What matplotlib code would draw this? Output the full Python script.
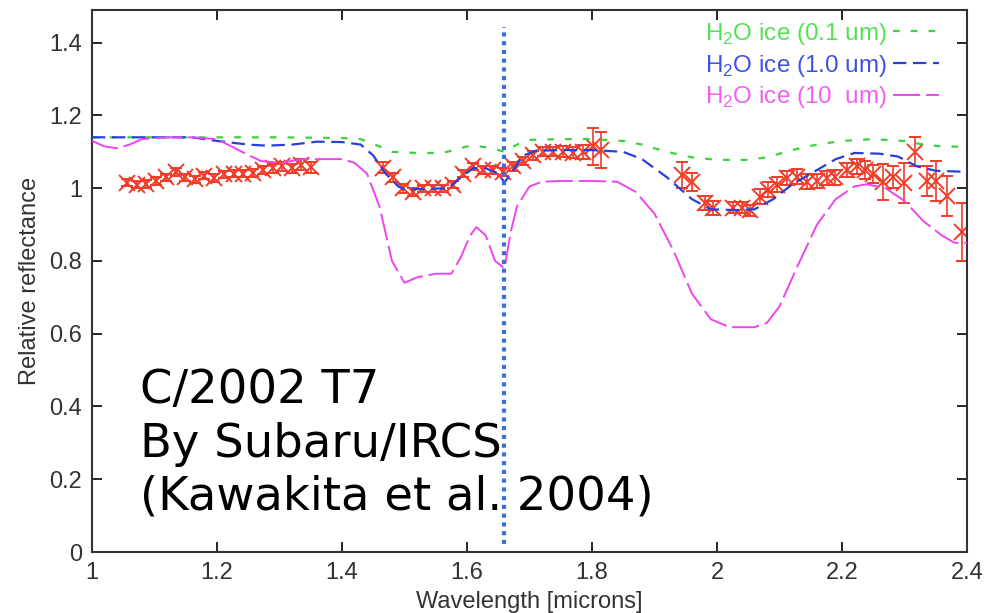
import matplotlib
matplotlib.use("Agg")
import matplotlib.pyplot as plt
from matplotlib.ticker import FormatStrFormatter

# model spectra of H2O ice
x_01 = [1.0, 1.1, 1.2, 1.3, 1.4, 1.43, 1.46, 1.48, 1.52, 1.56, 1.58, 1.6, 1.62, 1.64, 1.66, 1.68,
        1.7, 1.75, 1.8, 1.85, 1.88, 1.92, 1.96, 2.0, 2.05, 2.08, 2.12, 2.16, 2.2, 2.25, 2.3, 2.33,
        2.36, 2.4]
y_01 = [1.14, 1.14, 1.14, 1.14, 1.138, 1.135, 1.115, 1.1, 1.097, 1.097, 1.105, 1.115, 1.115, 1.11,
        1.1, 1.12, 1.133, 1.135, 1.135, 1.13, 1.12, 1.1, 1.085, 1.078, 1.078, 1.085, 1.105, 1.12,
        1.13, 1.135, 1.13, 1.12, 1.115, 1.114]

x_10 = [1.0, 1.1, 1.16, 1.2, 1.25, 1.28, 1.32, 1.36, 1.4, 1.43, 1.45, 1.47, 1.49, 1.5, 1.53, 1.57,
        1.59, 1.61, 1.63, 1.65, 1.66, 1.67, 1.69, 1.71, 1.75, 1.8, 1.85, 1.88, 1.92, 1.96, 1.99,
        2.03, 2.06, 2.09, 2.12, 2.15, 2.19, 2.22, 2.26, 2.29, 2.32, 2.35, 2.4]
y_10 = [1.14, 1.14, 1.14, 1.13, 1.12, 1.117, 1.12, 1.128, 1.127, 1.12, 1.09, 1.04, 1.005, 0.997,
        0.998, 1.0, 1.03, 1.055, 1.055, 1.04, 1.016, 1.04, 1.09, 1.103, 1.105, 1.105, 1.1, 1.08,
        1.03, 0.97, 0.942, 0.94, 0.942, 0.97, 1.01, 1.04, 1.08, 1.097, 1.095, 1.087, 1.06, 1.048,
        1.045]

x_100 = [1.0, 1.02, 1.04, 1.06, 1.08, 1.12, 1.16, 1.2, 1.24, 1.27, 1.3, 1.34, 1.4, 1.42, 1.44,
         1.46, 1.48, 1.5, 1.52, 1.55, 1.575, 1.59, 1.605, 1.615, 1.63, 1.645, 1.66, 1.67, 1.68,
         1.7, 1.72, 1.75, 1.8, 1.84, 1.87, 1.9, 1.93, 1.96, 1.99, 2.02, 2.06, 2.08, 2.1, 2.13,
         2.16, 2.19, 2.22, 2.24, 2.27, 2.3, 2.33, 2.36, 2.38, 2.4]
y_100 = [1.13, 1.115, 1.11, 1.12, 1.135, 1.14, 1.14, 1.135, 1.1, 1.075, 1.07, 1.08, 1.08, 1.07,
         1.04, 0.95, 0.8, 0.74, 0.755, 0.765, 0.765, 0.81, 0.87, 0.893, 0.87, 0.8, 0.78, 0.88,
         0.95, 1.005, 1.018, 1.02, 1.02, 1.018, 0.99, 0.93, 0.83, 0.71, 0.64, 0.618, 0.618, 0.63,
         0.675, 0.79, 0.9, 0.97, 1.005, 1.011, 1.0, 0.965, 0.91, 0.87, 0.85, 0.85]

# observed spectrum (J, H, K)
obs_x = [1.056, 1.072, 1.087, 1.103, 1.118, 1.134, 1.149, 1.165, 1.18, 1.196, 1.211, 1.227,
         1.242, 1.258, 1.273, 1.289, 1.304, 1.32, 1.335, 1.35,
         1.466, 1.482, 1.498, 1.514, 1.53, 1.546, 1.562, 1.578, 1.594, 1.61, 1.626, 1.642,
         1.658, 1.674, 1.69, 1.706, 1.722, 1.738, 1.754, 1.77, 1.786, 1.802, 1.815,
         1.944, 1.96, 1.981, 1.994, 2.026, 2.04, 2.053, 2.069, 2.082, 2.096, 2.112, 2.128,
         2.144, 2.16, 2.176, 2.189, 2.208, 2.224, 2.237, 2.25, 2.266, 2.282, 2.3, 2.317,
         2.336, 2.35, 2.368, 2.392]
obs_y = [1.015, 1.01, 1.012, 1.02, 1.03, 1.045, 1.03, 1.025, 1.035, 1.028, 1.038, 1.04,
         1.04, 1.042, 1.05, 1.055, 1.06, 1.055, 1.065, 1.058,
         1.056, 1.03, 1.0, 0.99, 1.0, 1.0, 1.0, 1.01, 1.04, 1.06, 1.05, 1.05,
         1.045, 1.06, 1.075, 1.09, 1.1, 1.1, 1.1, 1.098, 1.1, 1.115, 1.105,
         1.037, 1.018, 0.96, 0.946, 0.946, 0.946, 0.94, 0.977, 0.996, 1.01, 1.028, 1.032,
         1.018, 1.02, 1.028, 1.03, 1.05, 1.06, 1.05, 1.04, 1.018, 1.03, 1.015, 1.1,
         1.02, 1.02, 0.98, 0.88]
obs_err = [0.01, 0.01, 0.01, 0.01, 0.01, 0.012, 0.01, 0.01, 0.01, 0.01, 0.01, 0.01,
           0.01, 0.01, 0.01, 0.012, 0.012, 0.012, 0.015, 0.015,
           0.015, 0.012, 0.012, 0.012, 0.01, 0.01, 0.01, 0.01, 0.01, 0.01, 0.01, 0.01,
           0.01, 0.012, 0.012, 0.012, 0.012, 0.012, 0.015, 0.015, 0.02, 0.05, 0.05,
           0.035, 0.025, 0.02, 0.02, 0.015, 0.015, 0.015, 0.02, 0.02, 0.02, 0.02, 0.02,
           0.02, 0.02, 0.02, 0.02, 0.02, 0.02, 0.025, 0.025, 0.05, 0.03, 0.055, 0.04,
           0.04, 0.055, 0.055, 0.08]

band_line = 1.66
labels = ["H$_2$O ice (0.1 um)", "H$_2$O ice (1.0 um)", "H$_2$O ice (10  um)"]
note_lines = ["C/2002 T7", "By Subaru/IRCS", "(Kawakita et al. 2004)"]

plt.rcParams["font.family"] = ["Liberation Sans", "DejaVu Sans"]
plt.rcParams["mathtext.fontset"] = "custom"
plt.rcParams["mathtext.rm"] = "Liberation Sans"

fig = plt.figure(figsize=(9.86, 6.13), dpi=100)
ax = fig.add_axes([0.0933, 0.0995, 0.8874, 0.8842])

red = "#f03c28"
ax.errorbar(obs_x, obs_y, yerr=obs_err, fmt="x", color=red, ms=12, mew=1.4,
            elinewidth=1.2, capsize=4, capthick=1.2, zorder=2)

l1, = ax.plot(x_01, y_01, color="#3cd23c", lw=1.6, dashes=(3, 5), zorder=3)
l2, = ax.plot(x_10, y_10, color="#2a3fd8", lw=1.6, dashes=(6, 3), zorder=3)
l3, = ax.plot(x_100, y_100, color="#ee44ee", lw=1.4, dashes=(14, 3), zorder=3)

ax.axvline(band_line, ymin=0.015, ymax=0.969, color="#3a6fd6", lw=3,
           linestyle=(0, (1, 1.1)), zorder=4)

leg = ax.legend([l1, l2, l3], labels, loc="upper right", frameon=False, markerfirst=False,
                fontsize=17.5, handlelength=1.9, handletextpad=0.25, labelspacing=0.24,
                borderpad=0, borderaxespad=0, bbox_to_anchor=(0.968, 0.98))
for txt, col in zip(leg.get_texts(), ["#55e055", "#4050e0", "#f060f0"]):
    txt.set_color(col)

for line, yb in zip(note_lines, [0.41, 0.262, 0.1155]):
    ax.text(1.077, yb, line, fontsize=33.5, family=["DejaVu Sans"],
            va="baseline", ha="left", zorder=5)

ax.set_xlim(1, 2.4)
ax.set_ylim(0, 1.49)
ax.set_xticks([1, 1.2, 1.4, 1.6, 1.8, 2, 2.2, 2.4])
ax.set_yticks([0, 0.2, 0.4, 0.6, 0.8, 1, 1.2, 1.4])
ax.xaxis.set_major_formatter(FormatStrFormatter("%g"))
ax.yaxis.set_major_formatter(FormatStrFormatter("%g"))
ax.tick_params(direction="in", length=7, width=1.2, top=True, right=True,
               labelsize=17, labelcolor="#333333", pad=7)
for s in ax.spines.values():
    s.set_linewidth(1.5)
    s.set_color("#333333")

ax.set_xlabel("Wavelength [microns]", fontsize=17, color="#333333", labelpad=5)
ax.set_ylabel("Relative reflectance", fontsize=17, color="#333333", labelpad=6)

fig.savefig("out.png", dpi=100)
